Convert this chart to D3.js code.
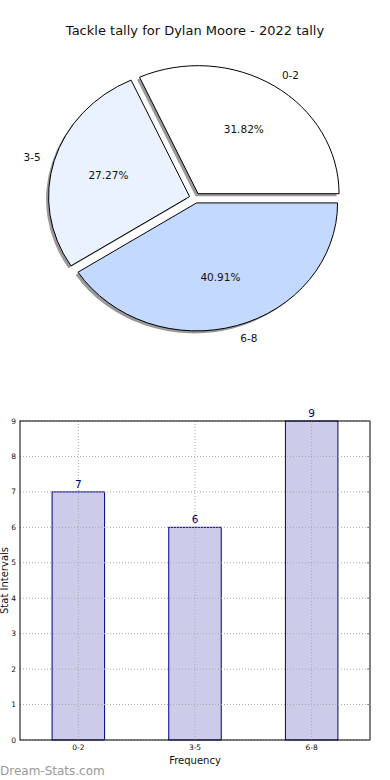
<!DOCTYPE html>
<html>
<head>
<meta charset="utf-8">
<script src="https://cdn.jsdelivr.net/npm/d3@7"></script>
<style>
  body { margin: 0; background: #fff; }
  svg { display: block; font-family: "DejaVu Sans", sans-serif; }
</style>
</head>
<body>
<div id="chart"></div>
<script>
// chart data
var title = "Tackle tally for Dylan Moore - 2022 tally";
var categories = ["0-2", "3-5", "6-8"];
var counts = [7, 6, 9];
var sliceColors = ["#ffffff", "#eaf1ff", "#c4d9ff"];
var yTicks = [0, 1, 2, 3, 4, 5, 6, 7, 8, 9];

var width = 390, height = 780;

var svg = d3.select("#chart")
    .append("svg")
    .attr("width", width)
    .attr("height", height);

svg.append("text")
    .attr("x", 195)
    .attr("y", 35)
    .attr("text-anchor", "middle")
    .style("font-size", "13px")
    .style("fill", "#111")
    .text(title);

// ---- pie (matplotlib-style, elliptical, exploded, with shadow) ----
var cx = 195, cy = 198, rx = 141, ry = 128;
var explode = 0.04;
var total = d3.sum(counts);

// start at 3 o'clock, go counter-clockwise
var pie = d3.pie().sort(null).startAngle(Math.PI / 2).endAngle(Math.PI / 2 - 2 * Math.PI);
var arcs = pie(counts);
var unitArc = d3.arc().innerRadius(0).outerRadius(1);

function offsetOf(d, k) {
  var m = (d.startAngle + d.endAngle) / 2;
  return [k * rx * Math.sin(m), -k * ry * Math.cos(m)];
}

var pieG = svg.append("g");

// shadows first
pieG.selectAll("path.shadow")
  .data(arcs)
  .enter()
  .append("path")
  .attr("class", "shadow")
  .attr("d", unitArc)
  .attr("transform", d => {
    var o = offsetOf(d, explode);
    return "translate(" + (cx + o[0] - 2.5) + "," + (cy + o[1] + 2.5) + ") scale(" + rx + "," + ry + ")";
  })
  .attr("fill", "#999");

pieG.selectAll("path.slice")
  .data(arcs)
  .enter()
  .append("path")
  .attr("class", "slice")
  .attr("d", unitArc)
  .attr("transform", d => {
    var o = offsetOf(d, explode);
    return "translate(" + (cx + o[0]) + "," + (cy + o[1]) + ") scale(" + rx + "," + ry + ")";
  })
  .attr("fill", (d, i) => sliceColors[i])
  .attr("stroke", "#000")
  .attr("stroke-width", 1)
  .attr("vector-effect", "non-scaling-stroke");

// category labels
pieG.selectAll("text.cat")
  .data(arcs)
  .enter()
  .append("text")
  .attr("class", "cat")
  .attr("x", d => cx + offsetOf(d, explode)[0] + offsetOf(d, 1.1)[0])
  .attr("y", d => cy + offsetOf(d, explode)[1] + offsetOf(d, 1.1)[1])
  .attr("text-anchor", d => offsetOf(d, 1)[0] > 0 ? "start" : "end")
  .attr("dominant-baseline", "central")
  .style("font-size", "10.5px")
  .style("fill", "#111")
  .text((d, i) => categories[i]);

// percentage labels
pieG.selectAll("text.pct")
  .data(arcs)
  .enter()
  .append("text")
  .attr("class", "pct")
  .attr("x", d => cx + offsetOf(d, explode)[0] + offsetOf(d, 0.6)[0])
  .attr("y", d => cy + offsetOf(d, explode)[1] + offsetOf(d, 0.6)[1])
  .attr("text-anchor", "middle")
  .attr("dominant-baseline", "central")
  .style("font-size", "10.5px")
  .style("fill", "#111")
  .text(d => (d.value / total * 100).toFixed(2) + "%");

// ---- bar chart ----
var plotL = 20, plotR = 370, plotT = 421, plotB = 740;
var x = d3.scaleLinear().domain([-0.5, categories.length - 0.5]).range([plotL, plotR]);
var y = d3.scaleLinear().domain([0, 9]).range([plotB, plotT]);
var barW = 0.45;

var barG = svg.append("g");

// bars
barG.selectAll("rect.bar")
  .data(counts)
  .enter()
  .append("rect")
  .attr("x", (d, i) => x(i - barW / 2))
  .attr("width", x(barW) - x(0))
  .attr("y", d => y(d))
  .attr("height", d => y(0) - y(d))
  .attr("fill", "#ccccea")
  .attr("stroke", "#000080")
  .attr("stroke-width", 1);

// dotted grid (drawn over bars, as matplotlib does)
barG.selectAll("line.ygrid")
  .data(yTicks)
  .enter()
  .append("line")
  .attr("x1", plotL).attr("x2", plotR)
  .attr("y1", d => y(d)).attr("y2", d => y(d))
  .attr("stroke", "#aaa")
  .attr("stroke-width", 1)
  .attr("stroke-dasharray", "1,2");

barG.selectAll("line.xgrid")
  .data(categories)
  .enter()
  .append("line")
  .attr("x1", (d, i) => x(i)).attr("x2", (d, i) => x(i))
  .attr("y1", plotT).attr("y2", plotB)
  .attr("stroke", "#aaa")
  .attr("stroke-width", 1)
  .attr("stroke-dasharray", "1,2");

// value labels
barG.selectAll("text.val")
  .data(counts)
  .enter()
  .append("text")
  .attr("x", (d, i) => x(i))
  .attr("y", d => y(d) - 4)
  .attr("text-anchor", "middle")
  .style("font-size", "10.5px")
  .style("fill", "#000080")
  .text(d => d);

// frame
barG.append("rect")
  .attr("x", plotL).attr("y", plotT)
  .attr("width", plotR - plotL).attr("height", plotB - plotT)
  .attr("fill", "none")
  .attr("stroke", "#000")
  .attr("stroke-width", 1);

// inward ticks on the right
barG.selectAll("line.ytickR")
  .data(yTicks)
  .enter()
  .append("line")
  .attr("x1", plotR - 3).attr("x2", plotR)
  .attr("y1", d => y(d)).attr("y2", d => y(d))
  .attr("stroke", "#888");

// y tick labels
barG.selectAll("text.ytick")
  .data(yTicks)
  .enter()
  .append("text")
  .attr("x", plotL - 4)
  .attr("y", d => y(d))
  .attr("text-anchor", "end")
  .attr("dominant-baseline", "central")
  .style("font-size", "7.5px")
  .style("fill", "#111")
  .text(d => d);

// x tick labels
barG.selectAll("text.xtick")
  .data(categories)
  .enter()
  .append("text")
  .attr("x", (d, i) => x(i))
  .attr("y", plotB + 10)
  .attr("text-anchor", "middle")
  .style("font-size", "7.5px")
  .style("fill", "#111")
  .text(d => d);

// axis titles
svg.append("text")
  .attr("x", (plotL + plotR) / 2)
  .attr("y", 764)
  .attr("text-anchor", "middle")
  .style("font-size", "10px")
  .style("fill", "#111")
  .text("Frequency");

svg.append("text")
  .attr("transform", "translate(4," + ((plotT + plotB) / 2) + ") rotate(-90)")
  .attr("text-anchor", "middle")
  .attr("dominant-baseline", "central")
  .style("font-size", "10px")
  .style("fill", "#111")
  .text("Stat Intervals");

// watermark
svg.append("text")
  .attr("x", 0)
  .attr("y", 775)
  .style("font-size", "12px")
  .style("fill", "#999")
  .text("Dream-Stats.com");
</script>
</body>
</html>
